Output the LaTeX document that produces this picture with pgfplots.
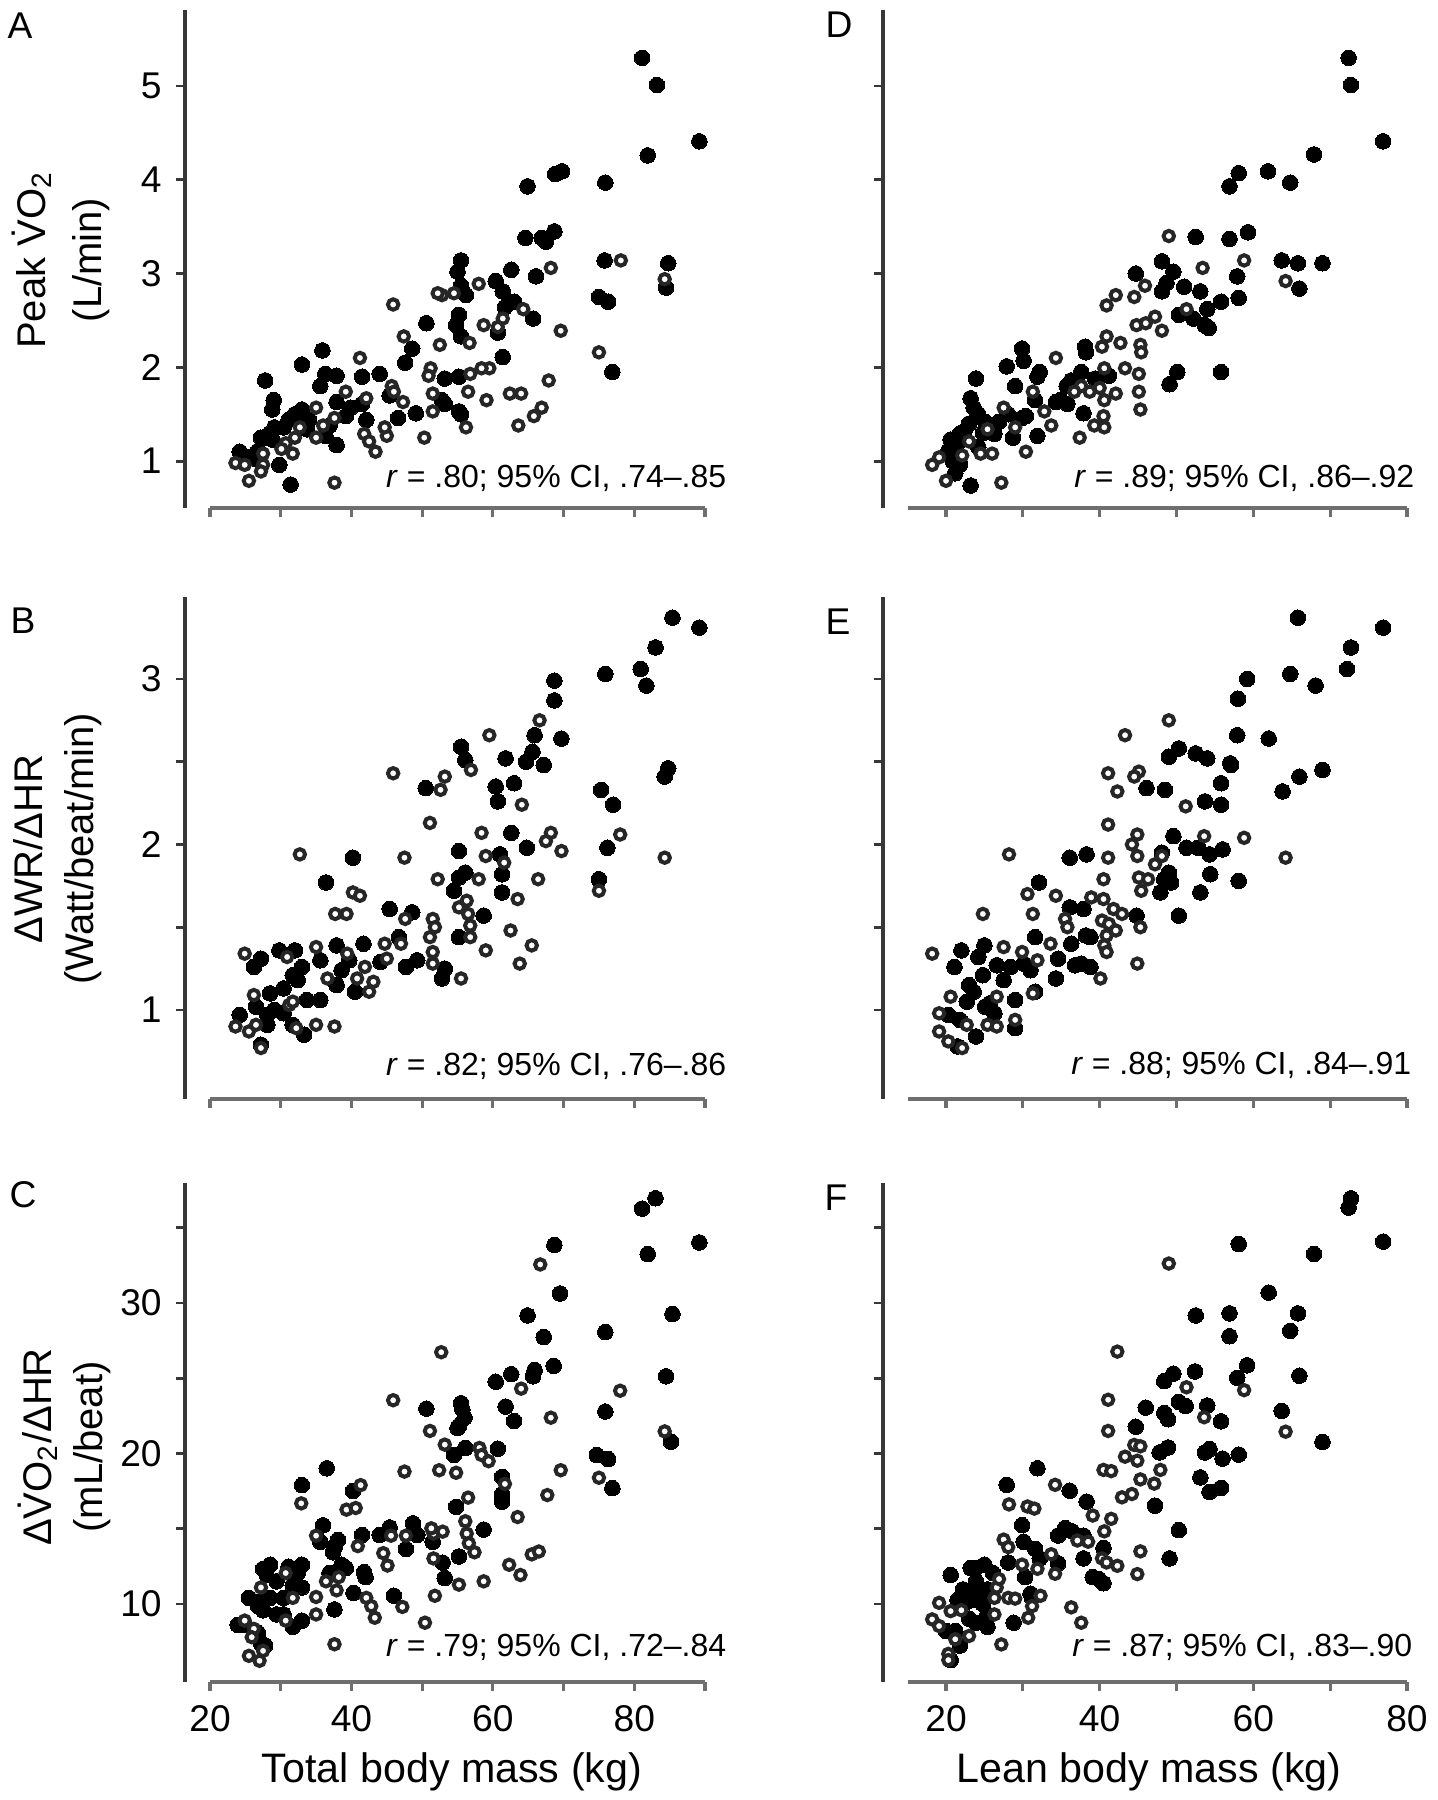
\documentclass[border=0pt]{standalone}
\usepackage{fontspec}
\setmainfont{Liberation Sans}
\usepackage{pgfplots}
\pgfplotsset{compat=1.18}
\definecolor{ygray}{RGB}{55,55,55}
\definecolor{xgray}{RGB}{110,110,110}
\pgfplotsset{
  panel/.style={scale only axis, anchor=north west, clip=false,
    axis x line=bottom, axis y line=left,
    x axis line style={draw=none},
    y axis line style={-, draw=ygray, line width=0.8pt},
    tick align=outside, tick pos=left, major tick length=2.3pt,
    xtick style={draw=xgray, line width=0.8pt},
    ytick style={draw=ygray, line width=0.7pt},
    tick label style={font=\fontsize{9.3}{10}\selectfont},
    /pgf/number format/assume math mode=true},
  leftcol/.style={xmin=16.46, xmax=90, xtick={20,30,...,90}},
  rightcol/.style={xmin=11.8, xmax=80, xtick={20,30,...,80}, yticklabels={}},
  filled/.style={only marks, mark=*, mark size=1.95pt,
    mark options={fill=black, draw=black, line width=0pt}},
  open/.style={only marks, mark=*, mark size=1.3pt,
    mark options={fill=white, draw=black!85, line width=1pt}},
}
\newcommand{\lab}{\fontsize{10}{11}\selectfont}
\newcommand{\rtxt}{\fontsize{8}{9}\selectfont}
\newcommand{\pan}{\fontsize{9.3}{10}\selectfont}

\begin{document}
\begin{tikzpicture}
\useasboundingbox (0,0) rectangle (359.25pt,-450pt);

% ---------------- A: peak VO2 vs total body mass
\begin{axis}[panel, leftcol, at={(46.25pt,-2.5pt)}, width=130pt, height=124.5pt,
  ymin=0.50, ymax=5.81, ytick={1,...,5}, xticklabels={}]
\addplot[filled] coordinates {
(81.1,5.30)(83.2,5.01)(81.9,4.26)(89.2,4.41)(64.9,3.93)(68.8,4.06)(69.8,4.09)(75.9,3.97)
(64.6,3.38)(66.9,3.38)(67.5,3.34)(68.7,3.45)(75.8,3.14)(84.8,3.11)(84.5,2.85)(75.0,2.75)
(76.3,2.70)(76.9,1.95)(66.1,2.97)(62.6,3.04)(65.7,2.52)(63.0,2.70)(61.7,2.64)(60.4,2.92)
(61.4,2.81)(60.7,2.37)(61.4,2.11)(55.2,1.90)(55.2,1.53)(55.5,1.50)(55.5,2.87)(55.0,3.02)
(55.5,3.14)(56.2,2.77)(55.2,2.56)(54.8,2.45)(55.5,2.33)(53.2,1.88)(52.8,1.65)(53.2,1.61)
(50.6,2.47)(48.6,2.20)(47.6,2.05)(45.4,1.70)(44.0,1.93)(46.6,1.46)(49.1,1.51)(41.5,1.90)
(41.5,1.61)(42.1,1.44)(39.9,1.57)(39.2,1.48)(37.9,1.91)(36.3,1.93)(35.6,1.80)(35.9,2.18)
(37.9,1.63)(37.9,1.17)(36.9,1.38)(36.3,1.27)(33.0,2.03)(33.0,1.55)(32.0,1.50)(34.0,1.44)
(33.7,1.34)(31.1,1.44)(30.4,1.36)(29.1,1.36)(28.8,1.23)(31.4,0.75)(29.8,0.96)(27.8,1.86)
(29.0,1.65)(28.8,1.55)(28.5,1.30)(27.8,1.25)(27.2,1.25)(26.8,1.11)(26.5,1.02)(25.5,1.04)
(24.2,1.10)(24.6,1.04)};
\addplot[open] coordinates {
(78.1,3.14)(84.3,2.94)(75.0,2.16)(69.6,2.39)(68.2,3.06)(64.3,2.62)(61.4,2.52)(60.7,2.43)
(58.7,2.45)(67.9,1.86)(66.9,1.57)(65.8,1.48)(63.6,1.38)(64.0,1.72)(62.4,1.72)(59.5,1.99)
(58.4,1.99)(59.1,1.65)(56.8,1.93)(56.5,1.74)(56.2,1.36)(56.7,2.26)(58.0,2.89)(54.5,2.79)
(52.8,2.77)(52.2,2.79)(52.5,2.24)(51.2,1.99)(50.9,1.91)(51.5,1.72)(51.5,1.53)(50.3,1.25)
(47.4,2.33)(45.9,2.67)(45.7,1.80)(46.0,1.74)(47.3,1.63)(45.0,1.27)(44.7,1.36)(41.2,2.10)
(42.1,1.67)(41.8,1.29)(42.5,1.21)(43.4,1.10)(39.2,1.74)(37.6,0.77)(35.0,1.57)(36.0,1.38)
(35.0,1.25)(37.6,1.46)(32.7,1.36)(32.0,1.25)(30.7,1.19)(30.1,1.13)(31.7,1.08)(27.5,1.08)
(27.5,0.96)(27.2,0.89)(25.5,0.79)(23.6,0.98)(24.9,0.96)};
\draw[xgray, line width=1pt] (axis cs:20,0.50) -- (axis cs:90,0.50);
\end{axis}

% ---------------- B: dWR/dHR vs total body mass
\begin{axis}[panel, leftcol, at={(46.25pt,-149.25pt)}, width=130pt, height=125.5pt,
  ymin=0.462, ymax=3.495, ytick={1,1.5,...,3}, yticklabels={1,,2,,3}, xticklabels={}]
\addplot[filled] coordinates {
(85.4,3.37)(89.2,3.31)(83.0,3.19)(80.9,3.06)(81.7,2.96)(75.9,3.03)(68.7,2.99)(68.7,2.87)
(65.9,2.66)(69.7,2.64)(65.6,2.56)(64.7,2.50)(67.2,2.48)(61.8,2.52)(63.0,2.37)(60.4,2.35)
(60.7,2.26)(55.5,2.59)(56.1,2.51)(50.5,2.34)(62.6,2.07)(64.8,1.98)(76.2,1.98)(75.3,2.33)
(77.0,2.24)(84.8,2.46)(84.3,2.41)(75.0,1.79)(61.3,1.71)(61.3,1.82)(61.0,1.94)(58.7,1.57)
(55.2,1.44)(55.2,1.96)(55.2,1.80)(54.5,1.72)(56.1,1.83)(53.2,1.25)(52.8,1.19)(45.4,1.61)
(48.6,1.59)(46.7,1.44)(47.7,1.26)(49.3,1.30)(40.2,1.92)(36.4,1.77)(41.7,1.40)(44.1,1.29)
(39.7,1.30)(37.9,1.39)(38.6,1.24)(37.9,1.15)(33.0,1.26)(31.7,1.21)(35.6,1.30)(35.6,1.06)
(40.5,1.11)(29.8,1.36)(32.0,1.36)(27.2,1.31)(26.2,1.26)(28.5,1.10)(30.4,1.13)(32.4,1.18)
(24.2,0.97)(26.5,1.02)(28.1,0.97)(29.1,1.00)(30.4,0.98)(31.7,0.91)(33.3,0.85)(27.2,0.79)
(28.1,0.91)(33.7,1.06)};
\addplot[open] coordinates {
(66.6,2.75)(59.5,2.66)(64.1,2.24)(56.9,2.45)(45.9,2.43)(53.2,2.41)(52.6,2.33)(51.1,2.13)
(58.4,2.07)(68.2,2.07)(67.5,2.02)(69.7,1.96)(78.0,2.06)(84.3,1.92)(75.0,1.72)(66.4,1.79)
(63.5,1.67)(65.5,1.39)(63.8,1.28)(62.5,1.48)(59.0,1.36)(61.6,1.89)(59.0,1.93)(58.0,1.79)
(56.8,1.51)(56.5,1.58)(56.8,1.44)(56.3,1.66)(55.2,1.62)(52.2,1.79)(51.5,1.55)(51.1,1.44)
(51.8,1.50)(51.5,1.35)(51.5,1.28)(55.5,1.19)(47.5,1.92)(47.6,1.55)(47.0,1.40)(44.7,1.40)
(45.0,1.31)(32.7,1.94)(40.2,1.71)(41.2,1.69)(37.7,1.58)(39.3,1.58)(41.9,1.26)(39.4,1.34)
(36.6,1.19)(35.0,1.38)(42.5,1.11)(43.1,1.17)(40.8,1.19)(30.9,1.32)(24.9,1.34)(26.2,1.09)
(31.2,1.03)(23.6,0.90)(25.5,0.87)(26.5,0.91)(31.7,1.05)(32.2,0.89)(35.0,0.91)(37.6,0.90)
(27.2,0.77)};
\draw[xgray, line width=1pt] (axis cs:20,0.462) -- (axis cs:90,0.462);
\end{axis}

% ---------------- C: dVO2/dHR vs total body mass
\begin{axis}[panel, leftcol, at={(46.25pt,-295.75pt)}, width=130pt, height=124.75pt,
  ymin=4.82, ymax=37.97, ytick={10,15,...,35}, yticklabels={10,,20,,30,},
  xticklabels={20,,40,,60,,80,}]
\addplot[filled] coordinates {
(81.1,36.27)(83.0,36.96)(81.9,33.25)(89.2,34.02)(68.7,33.85)(69.5,30.63)(64.9,29.17)(85.4,29.26)
(75.9,28.07)(67.2,27.74)(68.6,25.82)(65.9,25.54)(65.7,25.13)(62.6,25.27)(60.4,24.77)(84.5,25.13)
(55.5,23.34)(55.7,22.93)(50.6,22.98)(61.8,23.12)(56.0,22.38)(63.0,22.16)(75.9,22.79)(55.2,21.83)
(55.0,21.69)(85.2,20.78)(54.5,19.90)(56.1,20.37)(60.7,20.32)(74.7,19.90)(76.3,19.63)(76.9,17.70)
(36.5,19.02)(61.3,18.45)(61.3,17.29)(61.3,16.80)(54.8,16.46)(33.0,17.90)(40.2,17.51)(58.7,14.95)
(55.2,13.16)(52.9,12.75)(53.2,11.73)(51.5,14.13)(48.7,15.36)(49.3,14.59)(47.7,13.66)(45.4,15.09)
(44.0,14.59)(46.0,10.55)(41.5,14.59)(41.8,12.12)(42.0,11.79)(40.3,10.74)(38.1,14.26)(37.7,13.85)
(37.4,13.44)(36.0,15.23)(35.6,14.13)(38.6,12.61)(39.2,12.39)(36.9,12.06)(37.6,9.64)(33.0,12.61)
(32.4,12.06)(31.1,12.48)(31.7,11.24)(33.0,11.10)(30.4,10.41)(31.7,8.49)(33.0,8.90)(29.4,11.51)
(28.5,12.61)(27.5,12.34)(28.0,11.93)(29.4,9.31)(30.4,9.31)(28.5,10.41)(27.2,10.14)(27.5,9.59)
(25.5,10.41)(26.8,9.86)(23.9,8.62)(24.9,8.62)(26.8,8.07)(27.2,7.39)(27.8,7.25)};
\addplot[open] coordinates {
(66.7,32.56)(52.7,26.73)(64.0,24.31)(78.0,24.17)(45.9,23.54)(68.2,22.38)(51.1,21.50)(84.3,21.47)
(53.2,20.59)(58.1,20.37)(58.4,19.90)(59.4,19.49)(75.0,18.39)(69.6,18.89)(47.5,18.80)(52.4,18.89)
(54.8,18.72)(61.7,17.98)(67.7,17.24)(56.5,17.07)(32.9,16.69)(41.3,17.90)(39.3,16.27)(40.6,16.38)
(63.5,15.78)(56.1,15.50)(56.3,14.68)(56.6,14.04)(57.4,13.44)(65.5,13.30)(66.5,13.49)(62.3,12.61)
(63.9,11.93)(58.7,11.51)(55.2,11.29)(51.8,10.55)(50.4,8.76)(51.6,13.03)(51.6,14.68)(51.3,15.03)
(52.9,14.81)(47.7,14.54)(45.6,14.54)(44.5,13.38)(45.1,12.56)(47.2,9.81)(40.9,13.85)(42.1,10.41)
(42.8,9.86)(43.3,9.09)(35.0,14.54)(38.2,11.79)(36.4,11.51)(37.9,10.91)(37.6,7.33)(35.0,10.47)
(35.0,9.31)(31.7,10.41)(30.7,8.90)(30.7,12.06)(27.2,11.10)(24.9,8.90)(26.2,8.35)(25.9,7.80)
(27.5,6.89)(25.5,6.56)(27.0,6.23)};
\draw[xgray, line width=1pt] (axis cs:20,4.82) -- (axis cs:90,4.82);
\end{axis}

% ---------------- D: peak VO2 vs lean body mass
\begin{axis}[panel, rightcol, at={(220.75pt,-2.5pt)}, width=131pt, height=124.5pt,
  ymin=0.50, ymax=5.81, ytick={1,...,5}, xticklabels={}]
\addplot[filled] coordinates {
(72.4,5.30)(72.7,5.01)(76.9,4.41)(67.9,4.27)(56.9,3.93)(58.1,4.07)(61.9,4.09)(64.8,3.97)
(52.5,3.39)(56.9,3.37)(59.3,3.44)(63.7,3.14)(65.8,3.11)(69.0,3.11)(66.0,2.84)(57.9,2.97)
(58.1,2.74)(55.8,2.70)(54.0,2.62)(53.1,2.81)(51.0,2.86)(50.3,2.56)(52.2,2.52)(53.7,2.45)
(54.2,2.42)(49.6,3.02)(48.1,3.13)(48.7,2.90)(48.1,2.81)(44.7,3.00)(50.1,1.95)(49.1,1.82)
(55.8,1.95)(41.2,1.91)(39.4,1.88)(37.6,1.95)(38.2,2.16)(38.1,2.22)(36.3,1.86)(35.7,1.80)
(34.9,1.65)(34.3,1.63)(35.8,1.61)(37.9,1.51)(32.2,1.95)(31.9,1.90)(29.9,2.20)(30.1,2.07)
(27.9,2.01)(29.0,1.80)(31.6,1.65)(31.9,1.27)(30.4,1.48)(29.9,1.46)(28.7,1.25)(28.1,1.50)
(26.9,1.42)(23.9,1.88)(23.2,1.67)(23.6,1.57)(24.2,1.50)(25.1,1.42)(24.8,1.30)(23.0,1.40)
(22.4,1.32)(21.8,1.29)(21.5,1.19)(20.6,1.23)(20.3,1.11)(20.9,1.00)(21.8,0.96)(21.2,0.87)
(23.2,0.74)(24.2,1.15)(26.3,1.29)};
\addplot[open] coordinates {
(49.0,3.40)(58.8,3.14)(64.2,2.92)(51.3,2.62)(53.4,3.06)(45.9,2.87)(44.5,2.75)(42.1,2.77)
(40.9,2.66)(44.8,2.45)(47.2,2.54)(46.0,2.47)(48.1,2.39)(40.9,2.33)(40.3,2.22)(42.7,2.26)
(45.3,2.24)(45.4,2.16)(43.3,1.99)(45.1,1.93)(45.1,1.74)(45.3,1.55)(40.6,1.99)(40.0,1.78)
(40.6,1.65)(42.1,1.72)(40.5,1.48)(39.3,1.38)(40.6,1.36)(38.7,1.74)(34.3,2.10)(37.6,1.80)
(36.7,1.74)(37.4,1.25)(31.3,1.74)(32.8,1.53)(33.7,1.38)(30.4,1.10)(29.0,1.36)(27.5,1.57)
(26.0,1.08)(27.2,0.77)(25.4,1.34)(23.0,1.21)(19.1,1.04)(18.2,0.96)(20.0,0.79)(22.1,1.06)
(24.5,1.08)};
\draw[xgray, line width=1pt] (axis cs:15,0.50) -- (axis cs:80,0.50);
\end{axis}

% ---------------- E: dWR/dHR vs lean body mass
\begin{axis}[panel, rightcol, at={(220.75pt,-149.25pt)}, width=131pt, height=125.5pt,
  ymin=0.462, ymax=3.495, ytick={1,1.5,...,3}, xticklabels={}]
\addplot[filled] coordinates {
(65.8,3.37)(76.9,3.31)(72.7,3.19)(72.2,3.06)(64.8,3.03)(68.1,2.96)(59.2,3.00)(58.0,2.88)
(57.9,2.66)(62.0,2.64)(50.3,2.58)(52.5,2.55)(54.0,2.52)(57.0,2.49)(49.0,2.53)(57.1,2.48)
(46.1,2.34)(48.5,2.33)(55.8,2.37)(66.0,2.41)(69.0,2.45)(63.8,2.32)(53.7,2.26)(55.8,2.24)
(49.6,2.05)(51.3,1.98)(52.8,1.98)(54.3,1.94)(56.0,1.97)(48.1,1.95)(49.0,1.83)(48.4,1.79)
(49.3,1.77)(47.9,1.71)(54.4,1.82)(58.1,1.78)(53.1,1.71)(50.3,1.57)(36.1,1.92)(38.3,1.94)
(32.1,1.77)(44.8,1.57)(36.1,1.62)(37.9,1.61)(31.6,1.44)(36.3,1.40)(38.2,1.45)(38.8,1.44)
(34.6,1.31)(37.6,1.28)(36.8,1.27)(38.8,1.26)(34.3,1.19)(22.0,1.36)(21.1,1.26)(25.0,1.39)
(24.2,1.32)(26.6,1.27)(28.4,1.26)(30.1,1.28)(31.0,1.24)(31.6,1.11)(24.8,1.21)(23.0,1.15)
(23.6,1.11)(27.5,1.18)(29.0,1.06)(22.7,1.05)(25.1,1.02)(20.3,0.97)(21.8,0.94)(26.3,0.98)
(21.5,0.78)(29.0,0.89)(23.9,0.84)(25.7,1.04)};
\addplot[open] coordinates {
(49.0,2.75)(43.3,2.66)(41.1,2.43)(45.1,2.44)(44.5,2.41)(42.3,2.32)(51.2,2.23)(41.1,2.12)
(44.9,2.06)(44.2,2.00)(53.6,2.05)(58.8,2.04)(64.2,1.92)(48.1,1.93)(44.9,1.93)(47.2,1.88)
(45.1,1.80)(46.3,1.79)(45.4,1.72)(41.1,1.92)(28.2,1.94)(30.6,1.70)(34.3,1.69)(40.5,1.79)
(38.9,1.68)(40.5,1.67)(41.8,1.61)(42.9,1.58)(24.8,1.58)(31.3,1.58)(35.5,1.55)(35.8,1.50)
(40.3,1.54)(41.2,1.52)(42.1,1.48)(40.9,1.45)(45.3,1.50)(33.6,1.40)(40.6,1.39)(40.9,1.35)
(31.9,1.30)(40.1,1.19)(44.9,1.28)(27.5,1.38)(18.2,1.34)(29.9,1.35)(31.3,1.10)(26.6,1.08)
(20.6,1.08)(19.1,0.98)(22.7,0.91)(25.4,0.91)(26.6,0.90)(19.1,0.87)(20.3,0.81)(22.1,0.77)
(29.0,0.94)};
\draw[xgray, line width=1pt] (axis cs:15,0.462) -- (axis cs:80,0.462);
\end{axis}

% ---------------- F: dVO2/dHR vs lean body mass
\begin{axis}[panel, rightcol, at={(220.75pt,-295.75pt)}, width=131pt, height=124.75pt,
  ymin=4.82, ymax=37.97, ytick={10,15,...,35}, xticklabels={20,,40,,60,,80}]
\addplot[filled] coordinates {
(72.7,36.95)(72.4,36.34)(76.9,34.08)(58.1,33.92)(67.9,33.26)(62.0,30.69)(52.5,29.17)(56.9,29.31)
(65.8,29.31)(56.9,27.79)(64.8,28.15)(59.2,25.86)(66.0,25.17)(57.9,25.03)(52.4,25.45)(49.6,25.31)
(48.4,24.81)(46.0,23.05)(50.3,23.43)(51.2,23.16)(54.0,23.19)(48.4,22.69)(48.9,22.28)(55.8,22.14)
(63.7,22.83)(44.7,21.78)(69.0,20.76)(47.8,20.07)(48.9,20.40)(53.7,20.07)(54.3,20.29)(56.0,19.66)
(58.1,19.93)(53.1,18.41)(54.3,17.45)(55.8,17.72)(47.2,16.54)(31.9,19.02)(27.9,17.92)(36.1,17.53)
(38.3,16.81)(50.3,14.91)(29.9,15.24)(35.5,15.05)(36.4,14.83)(34.6,14.55)(37.9,14.55)(30.1,14.14)
(31.6,13.67)(40.5,13.72)(49.1,13.03)(28.1,12.76)(32.2,13.03)(34.6,12.70)(37.9,13.03)(30.3,11.79)
(39.1,11.79)(40.5,11.38)(39.9,11.66)(20.6,11.93)(23.2,12.40)(23.9,12.40)(25.0,12.62)(26.1,12.07)
(23.9,11.52)(24.2,10.97)(31.0,10.69)(31.2,10.41)(21.5,10.28)(22.7,10.14)(23.6,10.28)(24.8,10.00)
(25.4,9.31)(23.0,9.03)(23.9,8.76)(25.4,8.48)(28.8,8.76)(20.0,8.21)(21.2,8.21)(21.8,7.24)
(20.6,6.28)(25.4,10.97)(22.2,10.97)};
\addplot[open] coordinates {
(49.0,32.62)(42.3,26.77)(51.3,24.40)(58.8,24.21)(41.1,23.57)(53.6,22.41)(64.2,21.45)(41.1,21.50)
(44.5,20.57)(45.3,20.48)(43.3,19.79)(44.9,19.52)(40.5,18.91)(41.5,18.83)(47.9,18.91)(45.3,18.28)
(47.1,18.00)(42.9,17.09)(44.2,17.31)(34.2,17.92)(28.2,16.62)(30.6,16.48)(31.5,16.34)(39.1,15.88)
(41.5,15.66)(37.1,14.22)(38.5,14.14)(40.6,14.83)(27.5,14.28)(28.1,13.78)(33.7,13.31)(40.3,13.03)
(45.3,13.50)(29.9,12.62)(40.9,12.76)(42.3,12.54)(31.9,12.34)(34.2,12.01)(44.9,11.99)(26.6,11.10)
(26.3,10.41)(28.1,10.41)(29.0,10.36)(32.3,10.55)(31.2,9.86)(19.1,10.08)(26.3,9.31)(20.6,9.53)
(22.0,9.59)(18.2,8.98)(30.7,9.09)(36.3,9.78)(37.6,8.76)(19.1,8.54)(21.2,7.66)(23.0,7.88)
(20.3,6.69)(20.3,6.28)(27.2,7.32)(26.9,11.66)};
\draw[xgray, line width=1pt] (axis cs:15,4.82) -- (axis cs:80,4.82);
\end{axis}

% panel letters
\node[font=\pan] at (5pt,-6.5pt) {A};
\node[font=\pan] at (5.75pt,-155.25pt) {B};
\node[font=\pan] at (5.75pt,-298.75pt) {C};
\node[font=\pan] at (209.75pt,-6.25pt) {D};
\node[font=\pan] at (209.5pt,-155.5pt) {E};
\node[font=\pan] at (209pt,-299.5pt) {F};

% y labels
\node[font=\lab, rotate=90] at (8pt,-65pt) {Peak \.{V}O\textsubscript{2}};
\node[font=\lab, rotate=90] at (22.75pt,-65pt) {(L/min)};
\node[font=\lab, rotate=90] at (7pt,-212.25pt) {ΔWR/ΔHR};
\node[font=\lab, rotate=90] at (20.75pt,-212.25pt) {(Watt/beat/min)};
\node[font=\lab, rotate=90] at (9.5pt,-361.75pt) {Δ\.{V}O\textsubscript{2}/ΔHR};
\node[font=\lab, rotate=90] at (23pt,-361.75pt) {(mL/beat)};

% x labels
\node[font=\fontsize{10.3}{11}\selectfont] at (113pt,-443pt) {Total body mass (kg)};
\node[font=\fontsize{10.3}{11}\selectfont] at (287.25pt,-443pt) {Lean body mass (kg)};

% correlation notes
\node[font=\rtxt, anchor=east, inner sep=0pt] at (181.75pt,-119.5pt) {\textit{r} = .80; 95\% CI, .74--.85};
\node[font=\rtxt, anchor=east, inner sep=0pt] at (181.75pt,-266.5pt) {\textit{r} = .82; 95\% CI, .76--.86};
\node[font=\rtxt, anchor=east, inner sep=0pt] at (181.75pt,-411.75pt) {\textit{r} = .79; 95\% CI, .72--.84};
\node[font=\rtxt, anchor=east, inner sep=0pt] at (353.75pt,-119.5pt) {\textit{r} = .89; 95\% CI, .86--.92};
\node[font=\rtxt, anchor=east, inner sep=0pt] at (353pt,-266.25pt) {\textit{r} = .88; 95\% CI, .84--.91};
\node[font=\rtxt, anchor=east, inner sep=0pt] at (353.25pt,-411.75pt) {\textit{r} = .87; 95\% CI, .83--.90};
\end{tikzpicture}
\end{document}
